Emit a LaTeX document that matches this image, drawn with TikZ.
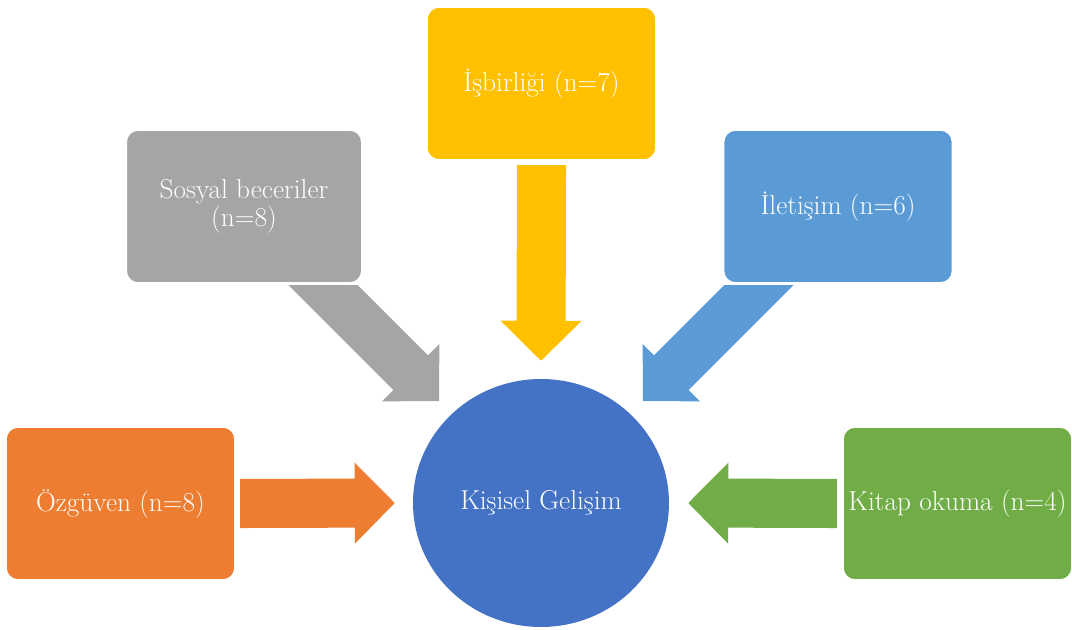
\documentclass[tikz,border=0pt]{standalone}
\usepackage{fontspec}
\usetikzlibrary{
	calc,
	backgrounds,
	shapes.geometric,
	positioning
}
\definecolor{ozcolor}{HTML}{ED7D31}
\definecolor{sosyalcolor}{HTML}{A5A5A5}
\definecolor{isbcolor}{HTML}{FFC000}
\definecolor{iletcolor}{HTML}{5B9BD5}
\definecolor{kitapcolor}{HTML}{70AD47}
\definecolor{hubcolor}{HTML}{4472C4}
\tikzset{
	labelfont/.style={font=\fontsize{20.5}{19}\selectfont},
	box/.style={draw=white, line width=1.5pt, rounded corners=9pt,
		minimum width=172pt, minimum height=115pt,
		text=white, align=center, labelfont},
	hub/.style={ellipse, fill=hubcolor, minimum width=192pt,
		minimum height=186pt, text=white, labelfont}
}
\newcommand{\shaftw}{18.4pt}
\newcommand{\headw}{30.4pt}
\newcommand{\headl}{30pt}
% block arrow from #2 (tail) to #3 (tip)
\newcommand{\blockarrow}[3]{%
	\fill[#1] let \p1=($(#3)-(#2)$), \n1={atan2(\y1,\x1)}, \n2={veclen(\x1,\y1)} in
		[shift={(#2)}, rotate=\n1]
		(0pt,-\shaftw) -- (\n2-\headl,-\shaftw) -- (\n2-\headl,-\headw) -- (\n2,0pt)
		-- (\n2-\headl,\headw) -- (\n2-\headl,\shaftw) -- (0pt,\shaftw) -- cycle;}

\begin{document}
\begin{tikzpicture}[x=0.75pt, y=-0.75pt]
	\useasboundingbox (0,0) rectangle (1072,630);

	\node[hub] (gelisim) at (541,503) {Kişisel Gelişim};
	\node[box, fill=ozcolor] (ozguven) at (120.5,503.5) {Özgüven (n=8)};
	\node[box, fill=sosyalcolor, minimum width=177pt] (sosyal) at (244,206.5) {Sosyal beceriler\\(n=8)};
	\node[box, fill=isbcolor] (isbirligi) at (541.5,83.5) {İşbirliği (n=7)};
	\node[box, fill=iletcolor] (iletisim) at (838,206.5) {İletişim (n=6)};
	\node[box, fill=kitapcolor] (kitap) at (957.5,503.5) {Kitap okuma (n=4)};

	\coordinate (oztail) at ($(ozguven.east)+(4,0)$);
	\coordinate (oztip) at ($(gelisim.west)+(-18,0)$);
	\coordinate (kitaptail) at ($(kitap.west)+(-5,0)$);
	\coordinate (kitaptip) at ($(gelisim.east)+(19,0)$);
	\coordinate (isbtail) at ($(isbirligi.south)+(0,4)$);
	\coordinate (isbtip) at ($(gelisim.north)+(0,-18)$);
	\coordinate (sosyaltail) at ($(gelisim.center)+(-244,-244)$);
	\coordinate (sosyaltip) at ($(gelisim.center)+(-102,-102)$);
	\coordinate (ilettail) at ($(gelisim.center)+(244,-244)$);
	\coordinate (ilettip) at ($(gelisim.center)+(102,-102)$);

	\begin{pgfonlayer}{background}
		\blockarrow{ozcolor}{oztail}{oztip}
		\blockarrow{kitapcolor}{kitaptail}{kitaptip}
		\blockarrow{isbcolor}{isbtail}{isbtip}
		\begin{scope}
			\clip (0,286) rectangle (1072,630);
			\blockarrow{sosyalcolor}{sosyaltail}{sosyaltip}
			\blockarrow{iletcolor}{ilettail}{ilettip}
		\end{scope}
	\end{pgfonlayer}
\end{tikzpicture}
\end{document}
